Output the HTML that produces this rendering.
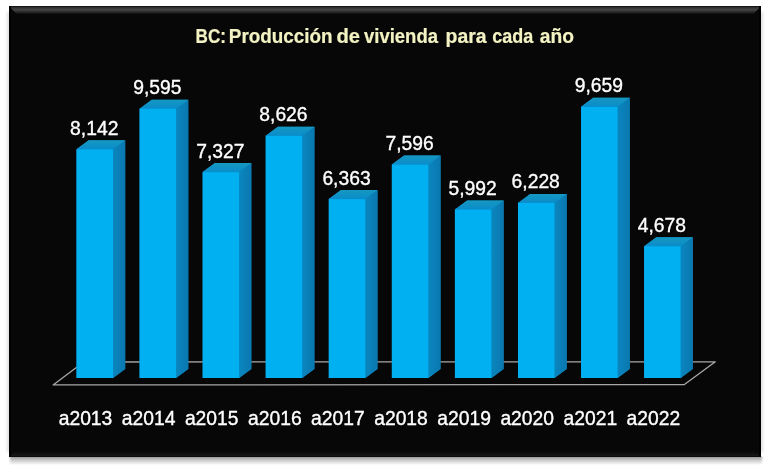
<!DOCTYPE html>
<html><head><meta charset="utf-8"><style>
html,body{margin:0;padding:0;background:#fff;width:771px;height:470px;overflow:hidden}
svg{display:block;will-change:transform}
.lab,.cat{font-family:"Liberation Sans",sans-serif;font-size:19.3px;fill:#fff;stroke:#fff;stroke-width:0.35px}
.title{font-family:"Liberation Sans",sans-serif;font-size:19.6px;font-weight:bold;fill:#f3f2c2;stroke:#f3f2c2;stroke-width:0.2px}
</style></head><body>
<svg width="771" height="470" viewBox="0 0 771 470">
<defs>
<linearGradient id="shB" x1="0" y1="0" x2="0" y2="1"><stop offset="0" stop-color="#000" stop-opacity="0.42"/><stop offset="0.4" stop-color="#000" stop-opacity="0.22"/><stop offset="1" stop-color="#000" stop-opacity="0"/></linearGradient>
<linearGradient id="shL" x1="1" y1="0" x2="0" y2="0"><stop offset="0" stop-color="#000" stop-opacity="0.10"/><stop offset="1" stop-color="#000" stop-opacity="0"/></linearGradient>
<linearGradient id="bevT" x1="0" y1="0" x2="0" y2="1"><stop offset="0" stop-color="#0a0a0a"/><stop offset="0.2" stop-color="#333"/><stop offset="0.45" stop-color="#444"/><stop offset="1" stop-color="#070707"/></linearGradient>
<linearGradient id="bevB" x1="0" y1="1" x2="0" y2="0"><stop offset="0" stop-color="#050505"/><stop offset="0.25" stop-color="#161616"/><stop offset="1" stop-color="#070707"/></linearGradient>
<linearGradient id="gTop" x1="0" y1="1" x2="0" y2="0"><stop offset="0" stop-color="#0a8ccb"/><stop offset="1" stop-color="#1598c0"/></linearGradient>
<linearGradient id="gSide" x1="0" y1="0" x2="1" y2="0"><stop offset="0" stop-color="#0a86bf"/><stop offset="1" stop-color="#0a78b0"/></linearGradient>
</defs>
<filter id="blr" x="-5%" y="-50%" width="110%" height="200%"><feGaussianBlur stdDeviation="1.2 0.6"/></filter>
<filter id="blr2" x="-5%" y="-5%" width="110%" height="110%"><feGaussianBlur stdDeviation="1.5"/></filter>
<rect x="7" y="12" width="756" height="440" fill="#000" opacity="0.12" filter="url(#blr2)"/>
<rect x="10" y="456.5" width="752" height="8.5" fill="url(#shB)" filter="url(#blr)"/>
<rect x="9" y="6" width="752" height="451" fill="#070707"/>
<polygon points="9,6 761,6 753,14.5 17,14.5" fill="url(#bevT)"/>
<polygon points="9,457 761,457 755,451 15,451" fill="url(#bevB)"/>
<rect x="9" y="6" width="2" height="451" fill="#020202"/>
<rect x="759" y="6" width="2" height="451" fill="#020202"/>
<polygon points="53.1,384.9 684.4,384.6 715.3,361.8 83.7,362" fill="none" stroke="#a8a8a8" stroke-width="1.3" stroke-linejoin="round"/>
<polygon points="76.50,149.31 88.70,140.31 125.20,140.31 125.20,369.00 113.00,378.00 76.50,378.00" fill="#0a80b8"/>
<polygon points="113.00,149.31 125.20,140.31 125.20,369.00 113.00,378.00" fill="url(#gSide)"/>
<polygon points="76.50,149.31 88.70,140.31 125.20,140.31 113.00,149.31" fill="url(#gTop)"/>
<rect x="76.50" y="149.31" width="36.50" height="228.69" fill="#00b0f0"/>
<text x="94.25" y="134.81" class="lab" text-anchor="middle">8,142</text>
<polygon points="139.57,108.64 151.77,99.64 188.27,99.64 188.27,369.00 176.07,378.00 139.57,378.00" fill="#0a80b8"/>
<polygon points="176.07,108.64 188.27,99.64 188.27,369.00 176.07,378.00" fill="url(#gSide)"/>
<polygon points="139.57,108.64 151.77,99.64 188.27,99.64 176.07,108.64" fill="url(#gTop)"/>
<rect x="139.57" y="108.64" width="36.50" height="269.36" fill="#00b0f0"/>
<text x="157.32" y="94.14" class="lab" text-anchor="middle">9,595</text>
<polygon points="202.64,172.12 214.84,163.12 251.34,163.12 251.34,369.00 239.14,378.00 202.64,378.00" fill="#0a80b8"/>
<polygon points="239.14,172.12 251.34,163.12 251.34,369.00 239.14,378.00" fill="url(#gSide)"/>
<polygon points="202.64,172.12 214.84,163.12 251.34,163.12 239.14,172.12" fill="url(#gTop)"/>
<rect x="202.64" y="172.12" width="36.50" height="205.88" fill="#00b0f0"/>
<text x="220.39" y="157.62" class="lab" text-anchor="middle">7,327</text>
<polygon points="265.71,135.76 277.91,126.76 314.41,126.76 314.41,369.00 302.21,378.00 265.71,378.00" fill="#0a80b8"/>
<polygon points="302.21,135.76 314.41,126.76 314.41,369.00 302.21,378.00" fill="url(#gSide)"/>
<polygon points="265.71,135.76 277.91,126.76 314.41,126.76 302.21,135.76" fill="url(#gTop)"/>
<rect x="265.71" y="135.76" width="36.50" height="242.24" fill="#00b0f0"/>
<text x="283.46" y="121.26" class="lab" text-anchor="middle">8,626</text>
<polygon points="328.78,199.10 340.98,190.10 377.48,190.10 377.48,369.00 365.28,378.00 328.78,378.00" fill="#0a80b8"/>
<polygon points="365.28,199.10 377.48,190.10 377.48,369.00 365.28,378.00" fill="url(#gSide)"/>
<polygon points="328.78,199.10 340.98,190.10 377.48,190.10 365.28,199.10" fill="url(#gTop)"/>
<rect x="328.78" y="199.10" width="36.50" height="178.90" fill="#00b0f0"/>
<text x="346.53" y="184.60" class="lab" text-anchor="middle">6,363</text>
<polygon points="391.85,164.59 404.05,155.59 440.55,155.59 440.55,369.00 428.35,378.00 391.85,378.00" fill="#0a80b8"/>
<polygon points="428.35,164.59 440.55,155.59 440.55,369.00 428.35,378.00" fill="url(#gSide)"/>
<polygon points="391.85,164.59 404.05,155.59 440.55,155.59 428.35,164.59" fill="url(#gTop)"/>
<rect x="391.85" y="164.59" width="36.50" height="213.41" fill="#00b0f0"/>
<text x="409.60" y="150.09" class="lab" text-anchor="middle">7,596</text>
<polygon points="454.92,209.48 467.12,200.48 503.62,200.48 503.62,369.00 491.42,378.00 454.92,378.00" fill="#0a80b8"/>
<polygon points="491.42,209.48 503.62,200.48 503.62,369.00 491.42,378.00" fill="url(#gSide)"/>
<polygon points="454.92,209.48 467.12,200.48 503.62,200.48 491.42,209.48" fill="url(#gTop)"/>
<rect x="454.92" y="209.48" width="36.50" height="168.52" fill="#00b0f0"/>
<text x="472.67" y="194.98" class="lab" text-anchor="middle">5,992</text>
<polygon points="517.99,202.88 530.19,193.88 566.69,193.88 566.69,369.00 554.49,378.00 517.99,378.00" fill="#0a80b8"/>
<polygon points="554.49,202.88 566.69,193.88 566.69,369.00 554.49,378.00" fill="url(#gSide)"/>
<polygon points="517.99,202.88 530.19,193.88 566.69,193.88 554.49,202.88" fill="url(#gTop)"/>
<rect x="517.99" y="202.88" width="36.50" height="175.12" fill="#00b0f0"/>
<text x="535.74" y="188.38" class="lab" text-anchor="middle">6,228</text>
<polygon points="581.06,106.84 593.26,97.84 629.76,97.84 629.76,369.00 617.56,378.00 581.06,378.00" fill="#0a80b8"/>
<polygon points="617.56,106.84 629.76,97.84 629.76,369.00 617.56,378.00" fill="url(#gSide)"/>
<polygon points="581.06,106.84 593.26,97.84 629.76,97.84 617.56,106.84" fill="url(#gTop)"/>
<rect x="581.06" y="106.84" width="36.50" height="271.16" fill="#00b0f0"/>
<text x="598.81" y="92.34" class="lab" text-anchor="middle">9,659</text>
<polygon points="644.13,246.26 656.33,237.26 692.83,237.26 692.83,369.00 680.63,378.00 644.13,378.00" fill="#0a80b8"/>
<polygon points="680.63,246.26 692.83,237.26 692.83,369.00 680.63,378.00" fill="url(#gSide)"/>
<polygon points="644.13,246.26 656.33,237.26 692.83,237.26 680.63,246.26" fill="url(#gTop)"/>
<rect x="644.13" y="246.26" width="36.50" height="131.74" fill="#00b0f0"/>
<text x="661.88" y="231.76" class="lab" text-anchor="middle">4,678</text>
<text x="85.50" y="425.00" class="cat" text-anchor="middle">a2013</text>
<text x="148.60" y="425.00" class="cat" text-anchor="middle">a2014</text>
<text x="211.70" y="425.00" class="cat" text-anchor="middle">a2015</text>
<text x="274.80" y="425.00" class="cat" text-anchor="middle">a2016</text>
<text x="337.90" y="425.00" class="cat" text-anchor="middle">a2017</text>
<text x="401.00" y="425.00" class="cat" text-anchor="middle">a2018</text>
<text x="464.10" y="425.00" class="cat" text-anchor="middle">a2019</text>
<text x="527.20" y="425.00" class="cat" text-anchor="middle">a2020</text>
<text x="590.30" y="425.00" class="cat" text-anchor="middle">a2021</text>
<text x="653.40" y="425.00" class="cat" text-anchor="middle">a2022</text>
<text x="195.60" y="42.5" class="title" textLength="30.40" lengthAdjust="spacingAndGlyphs">BC:</text>
<text x="228.80" y="42.5" class="title" textLength="103.80" lengthAdjust="spacingAndGlyphs">Producción</text>
<text x="336.40" y="42.5" class="title" textLength="23.60" lengthAdjust="spacingAndGlyphs">de</text>
<text x="364.00" y="42.5" class="title" textLength="74.00" lengthAdjust="spacingAndGlyphs">vivienda</text>
<text x="445.60" y="42.5" class="title" textLength="41.00" lengthAdjust="spacingAndGlyphs">para</text>
<text x="492.20" y="42.5" class="title" textLength="41.00" lengthAdjust="spacingAndGlyphs">cada</text>
<text x="539.80" y="42.5" class="title" textLength="34.20" lengthAdjust="spacingAndGlyphs">año</text>
</svg>
</body></html>
